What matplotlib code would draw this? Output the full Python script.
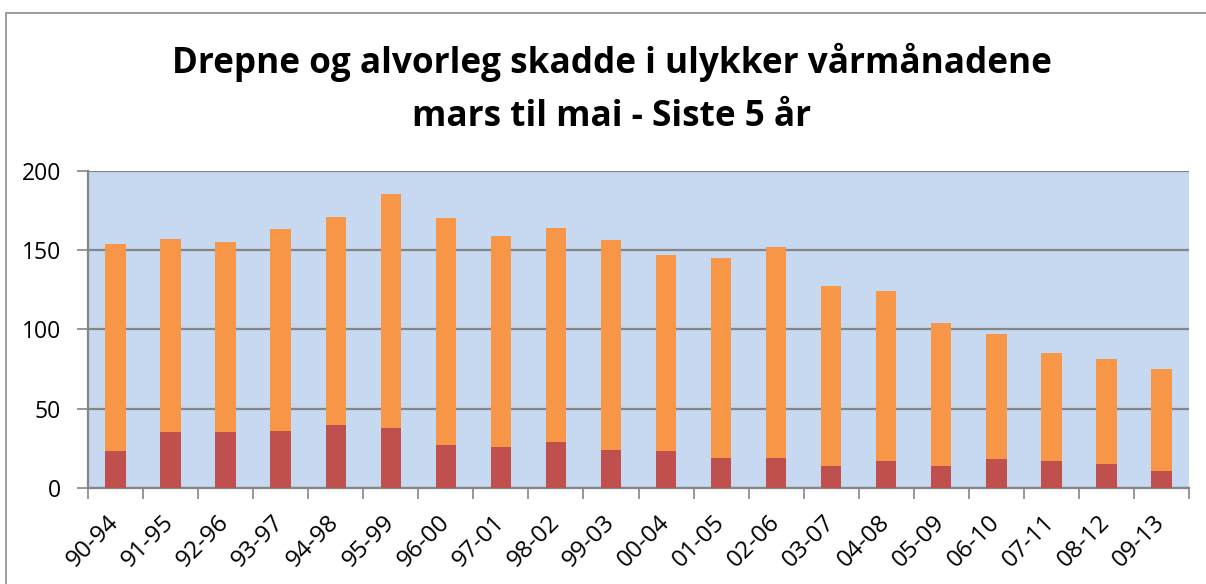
import matplotlib
matplotlib.use("Agg")
import matplotlib.pyplot as plt
from matplotlib.patches import Rectangle
import numpy as np

categories = ["90-94", "91-95", "92-96", "93-97", "94-98", "95-99", "96-00", "97-01",
              "98-02", "99-03", "00-04", "01-05", "02-06", "03-07", "04-08", "05-09",
              "06-10", "07-11", "08-12", "09-13"]
totals = [154, 157, 155, 163, 171, 185, 170, 159, 164, 156, 147, 145, 152, 127, 124,
          104, 97, 85, 81, 75]
killed = [23, 35, 35, 36, 40, 38, 27, 26, 29, 24, 23, 19, 19, 14, 17, 14, 18, 17, 15, 11]
injured = [t - k for t, k in zip(totals, killed)]
title = "Drepne og alvorleg skadde i ulykker vårmånadene\nmars til mai - Siste 5 år"

plt.rcParams['font.family'] = ['Open Sans', 'DejaVu Sans']

W, H = 1206, 584
fig = plt.figure(figsize=(W / 100, H / 100), dpi=100)
ax = fig.add_axes([88 / W, (H - 488) / H, (1189 - 88) / W, (488 - 170.5) / H])

grid_c = "#868686"
ax.set_facecolor("#C6D9F0")
x = np.arange(len(categories))
ax.bar(x, killed, width=0.37, color="#C0504D", zorder=3)
ax.bar(x, injured, width=0.37, bottom=killed, color="#F79646", zorder=3)

ax.set_xlim(-0.5, len(categories) - 0.5)
ax.set_ylim(0, 200)
ax.set_yticks([0, 50, 100, 150, 200])
ax.yaxis.grid(True, color=grid_c, linewidth=1.6, zorder=1)
ax.set_axisbelow(True)

ax.set_xticks(x)
ax.set_xticklabels(categories, rotation=45, ha="right", va="center",
                   rotation_mode="anchor", fontsize=17.5)
ax.tick_params(axis="x", length=0, pad=22)
ax.set_xticks(np.arange(-0.5, len(categories)), minor=True)
ax.tick_params(axis="x", which="minor", length=8, width=1.2, color=grid_c)
ax.tick_params(axis="y", length=8, width=1.2, color=grid_c, labelsize=16.5, pad=11.5)

for s in ["top", "right"]:
    ax.spines[s].set_visible(False)
for s in ["left", "bottom"]:
    ax.spines[s].set_color(grid_c)
    ax.spines[s].set_linewidth(1.6)

fig.text(612 / W, 1 - 89 / H, title, ha="center", va="center",
         fontsize=25.3, fontweight="bold", linespacing=1.6)

fig.patches.append(Rectangle((6 / W, -0.1), 1.2, 1.1 - 13.5 / H, transform=fig.transFigure,
                             fill=False, edgecolor="#8c8c8c", linewidth=1.2))

fig.savefig("out.png", dpi=100)
